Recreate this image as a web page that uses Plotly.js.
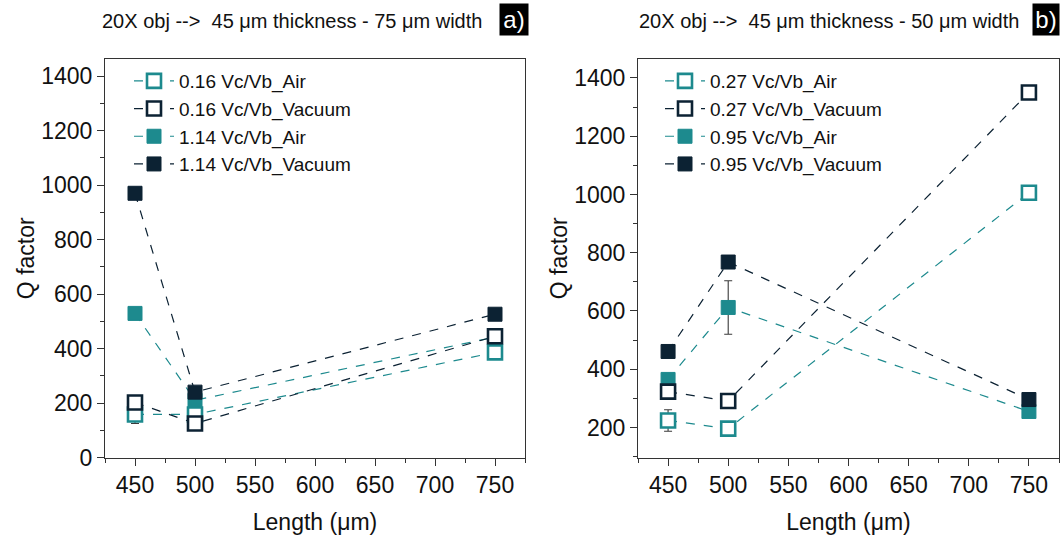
<!DOCTYPE html>
<html>
<head>
<meta charset="utf-8">
<script src="https://cdn.plot.ly/plotly-3.0.1.min.js"></script>
<style>html,body{margin:0;padding:0;background:#fff;}#chart{width:1062px;height:539px;}</style>
</head>
<body>
<div id="chart"></div>
<script>
// ---- data ----
const lengths = [450, 500, 750];

// panel a) 75 um width
const aNames = ["0.16 Vc/Vb_Air", "0.16 Vc/Vb_Vacuum", "1.14 Vc/Vb_Air", "1.14 Vc/Vb_Vacuum"];
const a016Air = [158, 158, 386];
const a016AirErr = [33, 8, 10];
const a016Vac = [202, 125, 445];
const a016VacErr = [10, 8, 10];
const a114Air = [529, 210, 442];
const a114AirErr = [8, 8, 8];
const a114Vac = [970, 240, 526];
const a114VacErr = [8, 10, 8];

// panel b) 50 um width
const bNames = ["0.27 Vc/Vb_Air", "0.27 Vc/Vb_Vacuum", "0.95 Vc/Vb_Air", "0.95 Vc/Vb_Vacuum"];
const b027Air = [224, 196, 1006];
const b027AirErr = [37, 8, 10];
const b027Vac = [323, 291, 1350];
const b027VacErr = [22, 8, 8];
const b095Air = [365, 612, 255];
const b095AirErr = [12, 92, 10];
const b095Vac = [461, 768, 296];
const b095VacErr = [8, 22, 12];

const titleA = "20X obj -->  45 μm thickness - 75 μm width";
const titleB = "20X obj -->  45 μm thickness - 50 μm width";

// ---- styles ----
const TEAL = "#1d8a8e";
const DARK = "#0c2233";
const FONT = "Liberation Sans, Arial, sans-serif";

function tr(name, y, err, color, filled, xa, ya, leg, rank) {
  return {
    type: "scatter", mode: "lines+markers",
    x: lengths, y: y, name: name,
    xaxis: xa, yaxis: ya, legend: leg, legendrank: rank,
    line: {color: color, width: 1.2, dash: "dash"},
    marker: {symbol: "square", size: 14,
      color: filled ? color : "#ffffff",
      line: {color: color, width: filled ? 1 : 2.6}},
    error_y: {type: "data", array: err, visible: true, color: "#3a3a3a", thickness: 1.1, width: 4}
  };
}

const data = [
  tr(aNames[2], a114Air, a114AirErr, TEAL, true, "x", "y", "legend", 3),
  tr(aNames[0], a016Air, a016AirErr, TEAL, false, "x", "y", "legend", 1),
  tr(aNames[1], a016Vac, a016VacErr, DARK, false, "x", "y", "legend", 2),
  tr(aNames[3], a114Vac, a114VacErr, DARK, true, "x", "y", "legend", 4),
  tr(bNames[2], b095Air, b095AirErr, TEAL, true, "x2", "y2", "legend2", 3),
  tr(bNames[0], b027Air, b027AirErr, TEAL, false, "x2", "y2", "legend2", 1),
  tr(bNames[1], b027Vac, b027VacErr, DARK, false, "x2", "y2", "legend2", 2),
  tr(bNames[3], b095Vac, b095VacErr, DARK, true, "x2", "y2", "legend2", 4)
];

function xax(domain, anchor) {
  return {
    domain: domain, anchor: anchor, range: [425, 775],
    tickmode: "linear", tick0: 450, dtick: 50,
    ticks: "outside", ticklen: 7, tickwidth: 1, tickcolor: "#333",
    minor: {ticks: "outside", ticklen: 4, dtick: 25, tick0: 425, tickcolor: "#333"},
    showline: true, linecolor: "#333", linewidth: 1, mirror: true,
    showgrid: false, zeroline: false,
    tickfont: {family: FONT, size: 23, color: "#111"},
    title: {text: "Length (μm)", font: {family: FONT, size: 23, color: "#111"}, standoff: 16}
  };
}
function yax(domain, anchor, range, tick0) {
  return {
    domain: domain, anchor: anchor, range: range,
    tickmode: "linear", tick0: tick0, dtick: 200,
    ticks: "outside", ticklen: 7, tickwidth: 1, tickcolor: "#333",
    minor: {ticks: "outside", ticklen: 4, dtick: 100, tick0: 0, tickcolor: "#333"},
    showline: true, linecolor: "#333", linewidth: 1, mirror: true,
    showgrid: false, zeroline: false,
    tickfont: {family: FONT, size: 23, color: "#111"},
    title: {text: "Q factor", font: {family: FONT, size: 23, color: "#111"}, standoff: 0}
  };
}

const yDom = [1 - 457.5 / 539, 1 - 59 / 539];
const legFont = {family: FONT, size: 19, color: "#111"};
const layout = {
  width: 1062, height: 539,
  margin: {l: 0, r: 0, t: 0, b: 0},
  paper_bgcolor: "#ffffff", plot_bgcolor: "#ffffff",
  font: {family: FONT, color: "#111"},
  showlegend: true,
  xaxis: xax([105 / 1062, 525 / 1062], "y"),
  yaxis: yax(yDom, "x", [0, 1463], 0),
  xaxis2: xax([638 / 1062, 1059 / 1062], "y2"),
  yaxis2: yax(yDom, "x2", [97, 1465], 200),
  legend: {x: 129 / 1062, y: 1 - 62 / 539, xanchor: "left", yanchor: "top",
    bgcolor: "rgba(0,0,0,0)", font: legFont, traceorder: "normal", itemwidth: 40},
  legend2: {x: 660 / 1062, y: 1 - 62 / 539, xanchor: "left", yanchor: "top",
    bgcolor: "rgba(0,0,0,0)", font: legFont, traceorder: "normal", itemwidth: 40},
  annotations: [
    {text: titleA, xref: "paper", yref: "paper", x: 100 / 1062, y: 1 - 21 / 539,
      xanchor: "left", yanchor: "middle", showarrow: false,
      font: {family: FONT, size: 20, color: "#111"}},
    {text: titleB, xref: "paper", yref: "paper", x: 637 / 1062, y: 1 - 21 / 539,
      xanchor: "left", yanchor: "middle", showarrow: false,
      font: {family: FONT, size: 20, color: "#111"}},
    {text: "a)", xref: "paper", yref: "paper", x: 514 / 1062, y: 1 - 20 / 539,
      xanchor: "center", yanchor: "middle", showarrow: false, bgcolor: "#000",
      width: 28, height: 31, borderpad: 0, font: {family: FONT, size: 24, color: "#fff"}},
    {text: "b)", xref: "paper", yref: "paper", x: 1045.5 / 1062, y: 1 - 20 / 539,
      xanchor: "center", yanchor: "middle", showarrow: false, bgcolor: "#000",
      width: 26, height: 31, borderpad: 0, font: {family: FONT, size: 24, color: "#fff"}}
  ]
};

Plotly.newPlot("chart", data, layout, {displayModeBar: false, staticPlot: true});
</script>
</body>
</html>
